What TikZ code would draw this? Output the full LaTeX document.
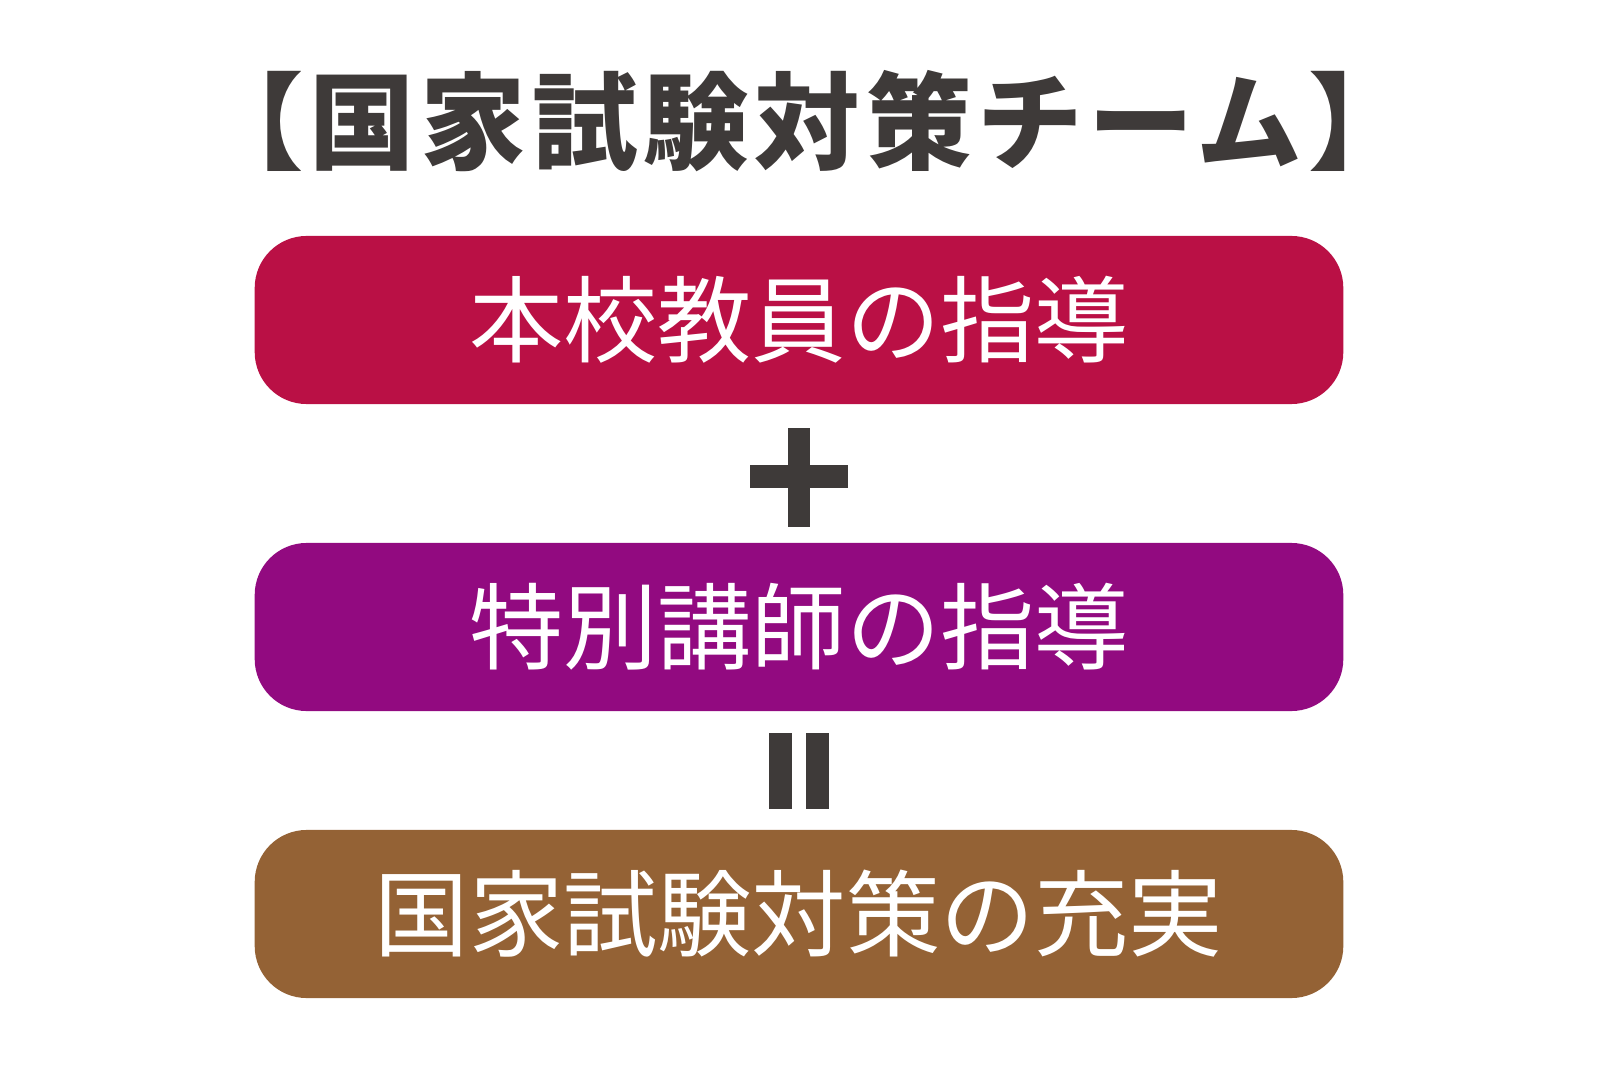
\documentclass[tikz,border=0pt]{standalone}
\usepackage{fontspec}
\newfontfamily\cjk{Noto Sans CJK JP}
\newfontfamily\cjktitle[LetterSpace=5.5]{Noto Sans CJK JP}
\definecolor{ink}{HTML}{3E3A39}
\definecolor{crim}{HTML}{BA1045}
\definecolor{purp}{HTML}{920A80}
\definecolor{brwn}{HTML}{946235}
\tikzset{
  pill/.style={rounded corners=0.52cm, minimum width=10.88cm, minimum height=1.68cm,
    inner sep=0pt, text=white, font=\cjk\fontsize{26.8pt}{30pt}\selectfont},
  bar/.style={fill=ink, draw=none}
}
\newcommand{\pilltext}[1]{\raisebox{-0.055cm}{#1}}
\begin{document}
\begin{tikzpicture}[x=0.01cm,y=-0.01cm]
\useasboundingbox (0,0) rectangle (1600,1067);
\node[text=ink, inner sep=0pt, font=\cjktitle\bfseries\fontsize{30pt}{34pt}\selectfont] (title) at (806,121) {【国家試験対策チーム】};
\node[pill, fill=crim] (b1) at (799,320) {\pilltext{本校教員の指導}};
\node[pill, fill=purp] (b2) at (799,627) {\pilltext{特別講師の指導}};
\node[pill, fill=brwn] (b3) at (799,914) {\pilltext{国家試験対策の充実}};
% plus sign
\fill[bar] (750,465) rectangle (848,488);
\fill[bar] (788,428) rectangle (810,527);
% equals sign (vertical)
\fill[bar] (769,733) rectangle (792,809);
\fill[bar] (806,733) rectangle (829,809);
\end{tikzpicture}
\end{document}
